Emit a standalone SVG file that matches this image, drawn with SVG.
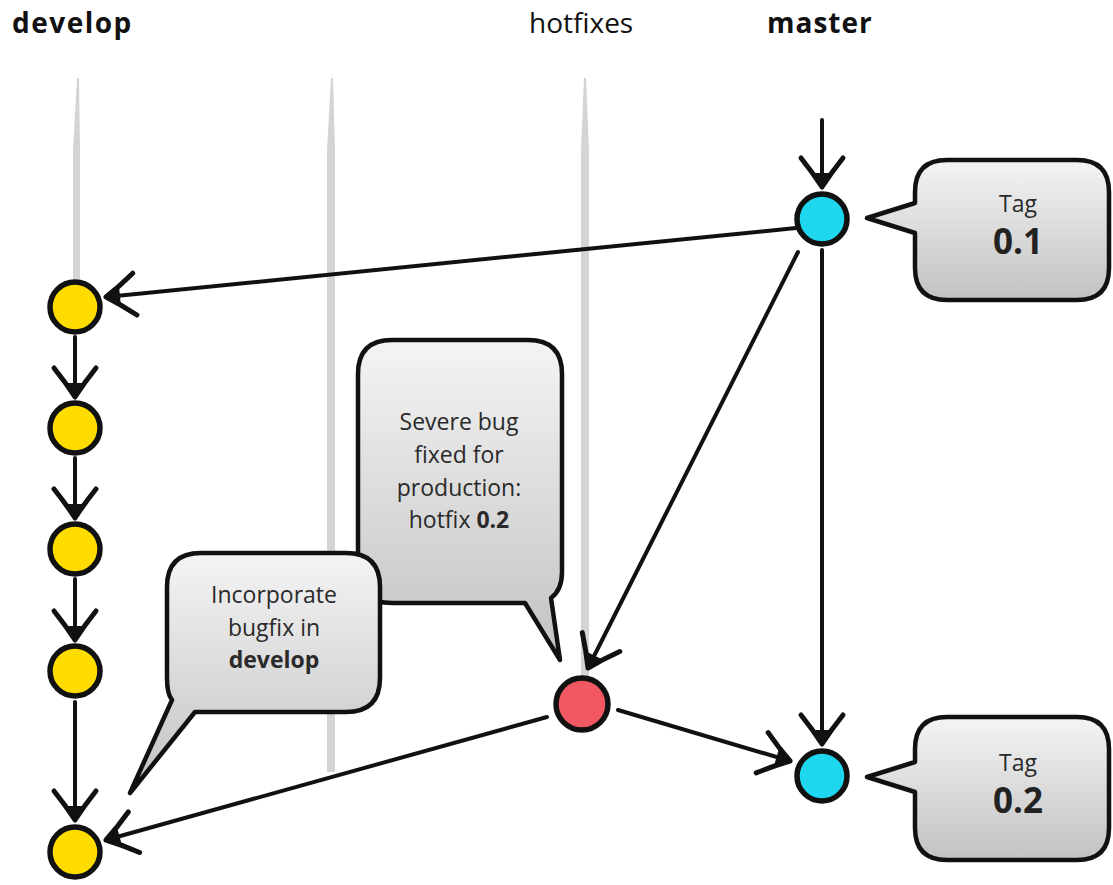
<svg xmlns="http://www.w3.org/2000/svg" width="1113" height="885" viewBox="0 0 1113 885">
  <defs>
    <linearGradient id="bubbleFill" x1="0" y1="0" x2="0" y2="1">
      <stop offset="0" stop-color="#f4f4f4"/>
      <stop offset="1" stop-color="#c2c2c2"/>
    </linearGradient>
    <!-- open, hand-drawn style arrowhead -->
    <marker id="vhead" viewBox="-34 -26 38 52" refX="0" refY="0" markerWidth="38" markerHeight="52" markerUnits="userSpaceOnUse" orient="auto">
      <path d="M-29,-21 Q-14,-9 0,0 Q-14,9 -29,21" fill="none" stroke="#111" stroke-width="5" stroke-linecap="round" stroke-linejoin="round"/>
      <path d="M-14,-8 L0,0 L-14,8 Z" fill="#111"/>
    </marker>
  </defs>
  <style>
    .lane { fill: #d4d4d4; }
    .head { font-family: "Open Sans", "Noto Sans", sans-serif; font-size: 28px; fill: #111; }
    .bold { font-weight: 700; }
    .bubble { fill: url(#bubbleFill); stroke: #111; stroke-width: 4.5; stroke-linejoin: round; }
    .btext { font-family: "Open Sans", "Noto Sans", sans-serif; font-size: 23px; fill: #2a2a2a; text-anchor: middle; }
    .tagnum { font-family: "Open Sans", "Noto Sans", sans-serif; font-size: 35px; font-weight: 700; fill: #222; text-anchor: middle; }
    .edge { fill: none; stroke: #111; stroke-width: 4; stroke-linecap: round; marker-end: url(#vhead); }
    .commit { stroke: #111; stroke-width: 5.5; }
    .dev { fill: #ffdc00; }
    .mst { fill: #1ed6ee; }
    .fix { fill: #f25862; }
  </style>

  <rect width="1113" height="885" fill="#ffffff"/>

  <!-- branch lanes: thin at the top, widening downwards -->
  <g id="lanes">
    <path class="lane" d="M77,78 L79,78 L80,150 L80,282 L73,282 L73,150 Z"/>
    <path class="lane" d="M331,78 L333,78 L335,150 L335,772 L327,772 L327,150 Z"/>
    <path class="lane" d="M584,78 L586,78 L589,150 L589,680 L581,680 L581,150 Z"/>
  </g>

  <!-- branch titles -->
  <g id="titles">
    <text class="head bold" x="12" y="33" letter-spacing="1.5">develop</text>
    <text class="head" x="529" y="33" fill="#222">hotfixes</text>
    <text class="head bold" x="767" y="33" letter-spacing="1">master</text>
  </g>

  <!-- connectors -->
  <g id="connectors">
    <path class="edge" d="M822,120 L822,187"/>
    <path class="edge" d="M796,228 L106,297"/>
    <path class="edge" d="M822,250 L822,744"/>
    <path class="edge" d="M798,252 L588,668"/>
    <path class="edge" d="M618,710 L790,761"/>
    <path class="edge" d="M547,717 L106,840"/>
    <path class="edge" d="M75,337 L75,397"/>
    <path class="edge" d="M75,458 L75,518"/>
    <path class="edge" d="M75,579 L75,640"/>
    <path class="edge" d="M75,702 L75,820"/>
  </g>

  <!-- callouts -->
  <g id="bubble-severe">
    <path class="bubble" d="M392,340 H528 Q562,340 562,374 V572 Q562,590 551,598 L560,660 L525,603 H392 Q358,603 358,569 V374 Q358,340 392,340 Z"/>
    <text class="btext" x="459" y="430">Severe bug</text>
    <text class="btext" x="459" y="463">fixed for</text>
    <text class="btext" x="459" y="496">production:</text>
    <text class="btext" x="459" y="528">hotfix <tspan font-weight="700">0.2</tspan></text>
  </g>

  <g id="bubble-incorporate">
    <path class="bubble" d="M201,553 H346 Q380,553 380,587 V678 Q380,712 346,712 H195 L130,793 L172,700 Q167,694 167,678 V587 Q167,553 201,553 Z"/>
    <text class="btext" x="274" y="603">Incorporate</text>
    <text class="btext" x="274" y="636">bugfix in</text>
    <text class="btext" x="274" y="668" font-weight="700">develop</text>
  </g>

  <g id="tag-01">
    <path class="bubble" d="M947,160 H1077 Q1109,160 1109,192 V268 Q1109,300 1077,300 H947 Q915,300 915,268 V233 L867,218 L915,203 V192 Q915,160 947,160 Z"/>
    <text class="btext" x="1018" y="212">Tag</text>
    <text class="tagnum" x="1018" y="254">0.1</text>
  </g>

  <g id="tag-02">
    <path class="bubble" d="M947,717 H1077 Q1109,717 1109,749 V828 Q1109,860 1077,860 H947 Q915,860 915,828 V792 L867,777 L915,762 V749 Q915,717 947,717 Z"/>
    <text class="btext" x="1018" y="771">Tag</text>
    <text class="tagnum" x="1018" y="813">0.2</text>
  </g>

  <!-- commits -->
  <g id="develop-1"><circle class="commit dev" cx="75" cy="307" r="25"/></g>
  <g id="develop-2"><circle class="commit dev" cx="75" cy="428" r="25"/></g>
  <g id="develop-3"><circle class="commit dev" cx="75" cy="549" r="25"/></g>
  <g id="develop-4"><circle class="commit dev" cx="75" cy="671" r="25"/></g>
  <g id="develop-5"><circle class="commit dev" cx="75" cy="852" r="25"/></g>
  <g id="master-1"><circle class="commit mst" cx="822" cy="219" r="25"/></g>
  <g id="master-2"><circle class="commit mst" cx="822" cy="776" r="25"/></g>
  <g id="hotfix-1"><circle class="commit fix" cx="582" cy="704" r="26"/></g>
</svg>
